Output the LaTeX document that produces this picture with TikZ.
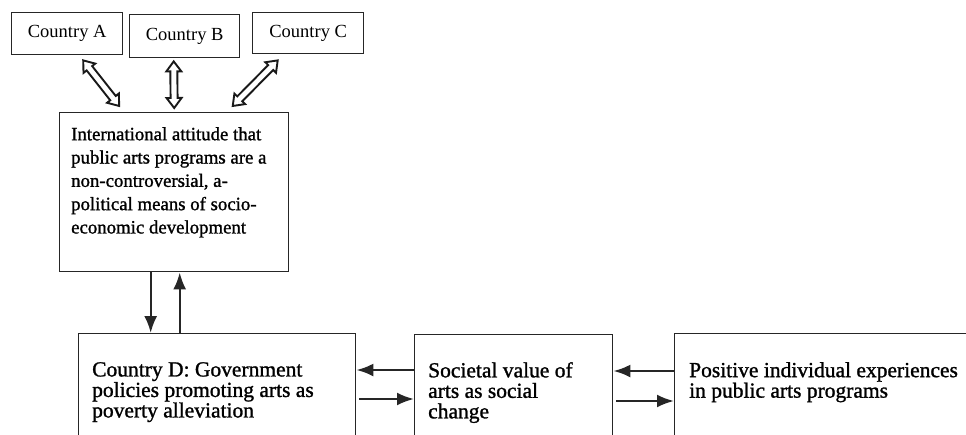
\documentclass[tikz,border=0pt]{standalone}
\usepackage{fontspec}
\setmainfont{Liberation Serif}
\newfontfamily\heavyserif{Liberation Serif}[FakeBold=1.2]
\usetikzlibrary{arrows.meta,decorations.markings,calc}

\tikzset{
  % hollow two-headed block arrow drawn along a straight invisible path
  hollowarrow/.style={
    postaction={decorate},
    decoration={markings,
      mark=at position 0 with {
        \draw[draw=black!90, line width=1.9pt, fill=white, line join=miter]
          (0pt,0pt) -- (10pt,7.5pt) -- (10pt,3.5pt)
          -- ({\pgfdecoratedpathlength-10pt},3.5pt)
          -- ({\pgfdecoratedpathlength-10pt},7.5pt)
          -- ({\pgfdecoratedpathlength},0pt)
          -- ({\pgfdecoratedpathlength-10pt},-7.5pt)
          -- ({\pgfdecoratedpathlength-10pt},-3.5pt)
          -- (10pt,-3.5pt) -- (10pt,-7.5pt) -- cycle;
      }}}
}

\begin{document}
\begin{tikzpicture}[x=1pt,y=-1pt,
  box/.style={draw=black!85, line width=1.4pt, inner sep=0pt, anchor=north west},
  ctry/.style={box, text=black, font=\fontsize{18.5}{20}\selectfont, align=center},
  txtA/.style={inner sep=0pt, anchor=north west, align=left, text=black,
    font=\heavyserif\fontsize{18.8}{23.3}\selectfont},
  txtB/.style={inner sep=0pt, anchor=north west, align=left, text=black,
    font=\heavyserif\fontsize{21.5}{20.5}\selectfont},
  solidarrow/.style={line width=2.4pt, draw=black!85, -{Latex[length=17pt,width=13pt]}}
]
\useasboundingbox (0,0) rectangle (966,434);
\clip (0,0) rectangle (966,434);

% countries
\node[ctry, minimum width=111pt, minimum height=42pt] (A) at (11,12) {Country A};
\node[ctry, minimum width=110pt, minimum height=43pt] (B) at (129,14) {Country B};
\node[ctry, minimum width=111pt, minimum height=41pt] (C) at (252,12) {Country C};

% international attitude
\node[box, minimum width=229pt, minimum height=159pt] (M) at (59,112) {};
\node[txtA] (Mt) at (71,127) {International attitude that\\public arts programs are a\\non-controversial, a-\\political means of socio-\\economic development};

% lower row
\node[box, minimum width=277pt, minimum height=150pt] (D) at (78,333) {};
\node[box, minimum width=198pt, minimum height=150pt] (S) at (414,334) {};
\node[box, minimum width=320pt, minimum height=150pt] (P) at (674,333) {};
\node[txtB] (Dt) at (92,362) {Country D: Government\\policies promoting arts as\\poverty alleviation};
\node[txtB] (St) at (428,362) {Societal value of\\arts as social\\change};
\node[txtB] (Pt) at (689,362) {Positive individual experiences\\in public arts programs};

% exchanges between the countries and the international attitude
\path[hollowarrow] ([shift={(16,5)}]A.south) -- ([shift={(-55,-6)}]M.north);
\path[hollowarrow] ([shift={(-11,3)}]B.south) -- ([shift={(0,-4)}]M.north);
\path[hollowarrow] ([shift={(-30.5,6)}]C.south) -- ([shift={(58.5,-6)}]M.north);

% attitude <-> country D
\draw[solidarrow] ([shift={(-23.5,0)}]M.south) -- ([shift={(-23.5,0)}]M.south |- D.north);
\draw[solidarrow] ([shift={(5.5,0)}]M.south |- D.north) -- ([shift={(5.5,0)}]M.south);

% country D <-> societal value
\draw[solidarrow] ([shift={(0,36)}]S.north west) -- ([shift={(0,36)}]S.north west -| D.east);
\draw[solidarrow] ([shift={(3,66)}]D.north east) -- ([shift={(0,66)}]D.north east -| S.west);

% societal value <-> individual experiences
\draw[solidarrow] ([shift={(0,38)}]P.north west) -- ([shift={(0,38)}]P.north west -| S.east);
\draw[solidarrow] ([shift={(3,67)}]S.north east) -- ([shift={(0,67)}]S.north east -| P.west);
\end{tikzpicture}
\end{document}
